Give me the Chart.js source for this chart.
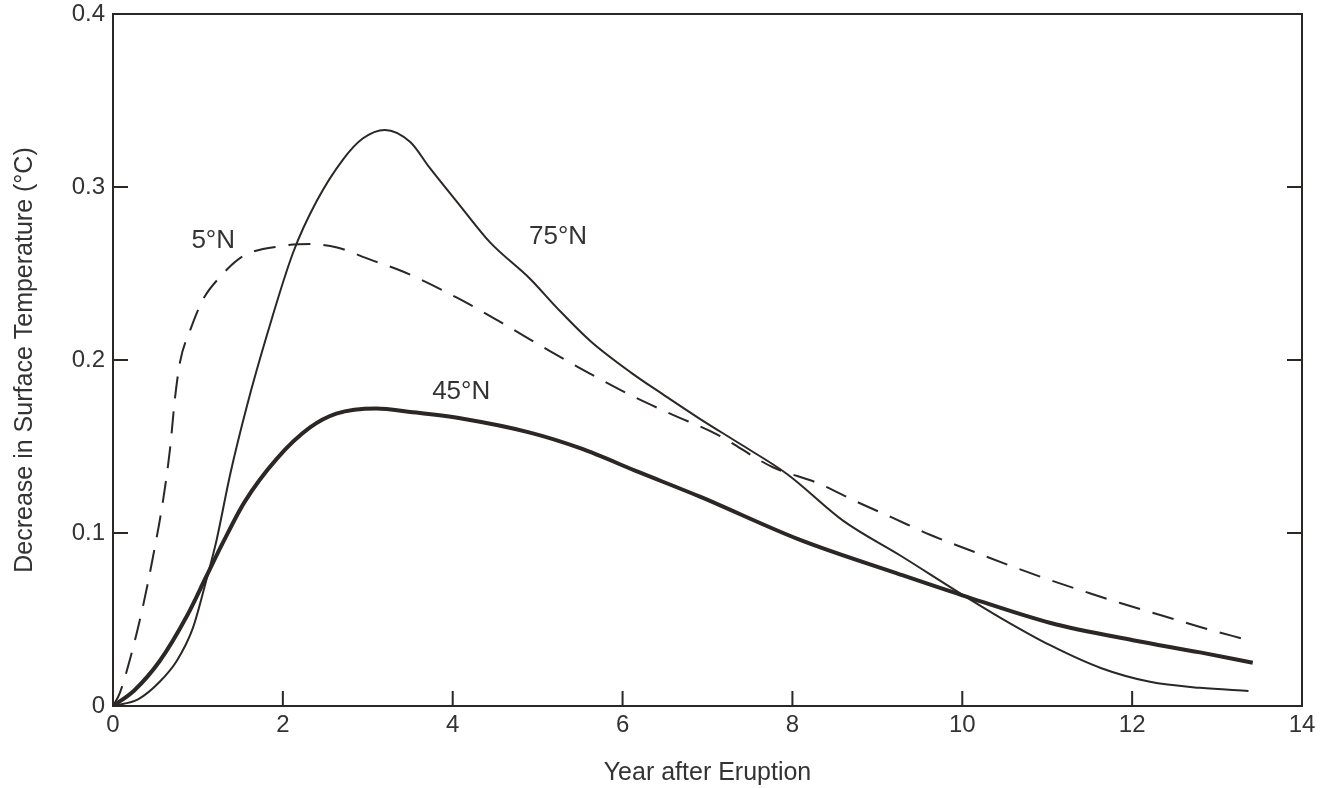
<!DOCTYPE html>
<html><head><meta charset="utf-8">
<script src="https://cdn.jsdelivr.net/npm/chart.js@4.4.0/dist/chart.umd.min.js"></script>
<style>html,body{margin:0;padding:0;background:#fff}#wrap{width:1325px;height:788px}</style>
</head><body><div id="wrap"><canvas id="c" width="1325" height="788"></canvas></div>
<script>
// ---- data ----
const xTickValues = [0, 2, 4, 6, 8, 10, 12, 14];
const yTickLabels = ['0', '0.1', '0.2', '0.3', '0.4'];

const x75 = [0, 0.3, 0.55, 0.75, 0.94, 1.1, 1.22, 1.38, 1.58, 1.81, 2.12, 2.4, 2.71, 2.94, 3.2, 3.5, 3.73, 4.09, 4.44, 4.91, 5.23, 5.62, 6.12, 6.48, 6.91, 7.4, 7.94, 8.6, 9.27, 9.98, 10.45, 11.04, 11.63, 12.21, 12.8, 13.37];
const y75 = [0, 0.004, 0.014, 0.026, 0.045, 0.073, 0.096, 0.134, 0.174, 0.214, 0.262, 0.292, 0.316, 0.328, 0.333, 0.326, 0.311, 0.289, 0.268, 0.247, 0.23, 0.211, 0.192, 0.18, 0.166, 0.151, 0.134, 0.107, 0.087, 0.065, 0.051, 0.035, 0.022, 0.014, 0.0105, 0.0087];

const x45 = [0, 0.25, 0.55, 0.87, 1.1, 1.3, 1.55, 1.93, 2.32, 2.63, 3.1, 3.5, 4.12, 4.91, 5.5, 6.2, 6.91, 8.09, 9.27, 10.0, 11.04, 12.01, 12.8, 13.42];
const y45 = [0, 0.009, 0.026, 0.052, 0.075, 0.095, 0.118, 0.143, 0.161, 0.169, 0.172, 0.170, 0.166, 0.158, 0.149, 0.135, 0.121, 0.096, 0.076, 0.064, 0.048, 0.038, 0.031, 0.025];

const x5 = [0, 0.08, 0.2, 0.35, 0.47, 0.59, 0.67, 0.73, 0.79, 0.907, 1.06, 1.26, 1.53, 2.0, 2.32, 2.64, 3.03, 3.42, 4.05, 4.56, 5.15, 5.62, 6.08, 6.56, 7.11, 7.77, 8.29, 8.76, 9.17, 9.62, 10.09, 10.57, 11.02, 11.45, 11.86, 12.33, 12.8, 13.37];
const y5 = [0, 0.0075, 0.027, 0.057, 0.086, 0.119, 0.148, 0.178, 0.199, 0.217, 0.235, 0.248, 0.26, 0.266, 0.267, 0.265, 0.258, 0.251, 0.236, 0.222, 0.205, 0.192, 0.18, 0.169, 0.157, 0.138, 0.129, 0.118, 0.109, 0.099, 0.09, 0.081, 0.073, 0.066, 0.0595, 0.0526, 0.0457, 0.038];

const seriesNames = ['75°N', '45°N', '5°N'];
const labelTexts = ['5°N', '75°N', '45°N'];
const labelX = [1.18, 5.24, 4.1];
const labelY = [0.269, 0.271, 0.1815];

// ---- style ----
const INK = '#2b2725';
const TEXT = '#333333';
const FONT = '"Liberation Sans", Arial, sans-serif';

const pts = (xs, ys) => xs.map((x, i) => ({x: x, y: ys[i]}));

const framePlugin = {
  id: 'frame',
  afterDatasetsDraw(chart) {
    const {ctx, chartArea: a, scales} = chart;
    ctx.save();
    ctx.strokeStyle = INK;
    ctx.lineWidth = 2;
    ctx.strokeRect(a.left, a.top, a.right - a.left, a.bottom - a.top);
    const L = 15;
    ctx.beginPath();
    xTickValues.forEach(v => {
      if (v === scales.x.min || v === scales.x.max) return;
      const px = scales.x.getPixelForValue(v);
      ctx.moveTo(px, a.bottom); ctx.lineTo(px, a.bottom - L);
    });
    scales.y.ticks.forEach(t => {
      if (t.value <= scales.y.min + 1e-9 || t.value >= scales.y.max - 1e-9) return;
      const py = scales.y.getPixelForValue(t.value);
      ctx.moveTo(a.left, py); ctx.lineTo(a.left + L, py);
      ctx.moveTo(a.right, py); ctx.lineTo(a.right - L, py);
    });
    ctx.stroke();
    ctx.fillStyle = TEXT;
    ctx.font = '26px ' + FONT;
    ctx.textAlign = 'center';
    ctx.textBaseline = 'middle';
    labelTexts.forEach((t, i) => {
      ctx.fillText(t, scales.x.getPixelForValue(labelX[i]), scales.y.getPixelForValue(labelY[i]));
    });
    ctx.restore();
  }
};

new Chart(document.getElementById('c'), {
  type: 'scatter',
  data: {
    datasets: [
      {label: seriesNames[0], data: pts(x75, y75), showLine: true, borderColor: INK, borderWidth: 2, pointRadius: 0, cubicInterpolationMode: 'monotone'},
      {label: seriesNames[1], data: pts(x45, y45), showLine: true, borderColor: INK, borderWidth: 4, pointRadius: 0, cubicInterpolationMode: 'monotone'},
      {label: seriesNames[2], data: pts(x5, y5), showLine: true, borderColor: INK, borderWidth: 2, borderDash: [22, 13], pointRadius: 0, cubicInterpolationMode: 'monotone'}
    ]
  },
  options: {
    responsive: false,
    animation: false,
    devicePixelRatio: 1,
    layout: {padding: {left: 0, right: 23, top: 14, bottom: 0}},
    plugins: {legend: {display: false}, tooltip: {enabled: false}},
    scales: {
      x: {
        type: 'linear', min: 0, max: 14,
        afterBuildTicks: s => { s.ticks = xTickValues.map(v => ({value: v})); },
        afterFit: s => { s.height = 82; s.paddingLeft = 0; s.paddingRight = 0; },
        grid: {display: false, drawTicks: false}, border: {display: false},
        ticks: {color: TEXT, font: {family: FONT, size: 24}, padding: 5, maxRotation: 0, autoSkip: false, callback: v => String(v)},
        title: {display: true, text: 'Year after Eruption', color: TEXT, font: {family: FONT, size: 25}, padding: {top: 0, bottom: 0}}
      },
      y: {
        type: 'linear', min: 0, max: 0.4,
        ticks: {stepSize: 0.1, color: TEXT, font: {family: FONT, size: 24}, padding: 8, callback: (v, i) => yTickLabels[i]},
        afterFit: s => { s.width = 113; s.paddingTop = 0; s.paddingBottom = 0; },
        grid: {display: false, drawTicks: false}, border: {display: false},
        title: {display: true, text: 'Decrease in Surface Temperature (°C)', color: TEXT, font: {family: FONT, size: 25}, padding: {top: 10, bottom: 0}}
      }
    }
  },
  plugins: [framePlugin]
});
</script>
</body></html>
